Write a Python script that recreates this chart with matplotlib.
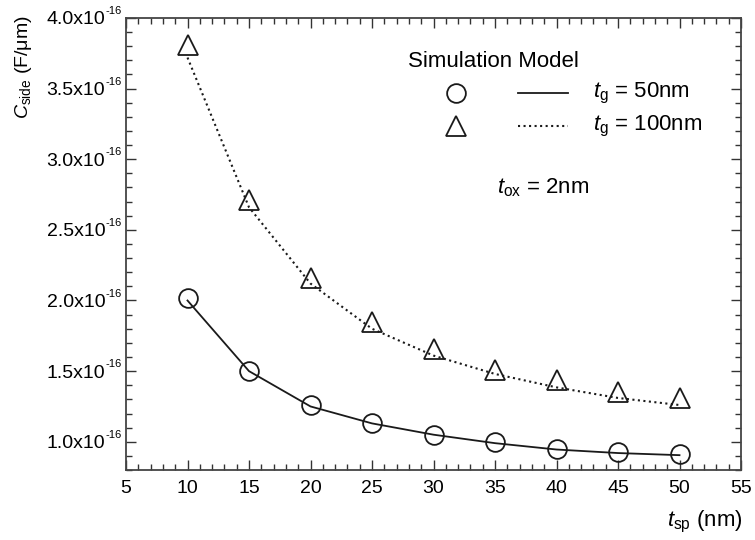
import matplotlib
matplotlib.use("Agg")
import matplotlib.pyplot as plt
import matplotlib.transforms as mtransforms
from matplotlib.lines import Line2D
from matplotlib.ticker import MultipleLocator, FuncFormatter

plt.rcParams['font.family'] = ['Liberation Sans', 'DejaVu Sans']
plt.rcParams['mathtext.fontset'] = 'custom'
plt.rcParams['mathtext.rm'] = 'Liberation Sans'
plt.rcParams['mathtext.it'] = 'Liberation Sans:italic'
plt.rcParams['mathtext.default'] = 'regular'

# Data (values in units of 1e-16 F/um)
t_sp = [10, 15, 20, 25, 30, 35, 40, 45, 50]
sim_50 = [2.02, 1.50, 1.26, 1.13, 1.05, 1.00, 0.95, 0.93, 0.91]
model_50 = [2.00, 1.50, 1.25, 1.13, 1.05, 0.99, 0.945, 0.92, 0.905]
sim_100 = [3.81, 2.71, 2.16, 1.85, 1.66, 1.51, 1.44, 1.35, 1.31]
model_100 = [3.72, 2.66, 2.12, 1.80, 1.61, 1.48, 1.385, 1.31, 1.26]
y_ticks = [1.0, 1.5, 2.0, 2.5, 3.0, 3.5, 4.0]
scale = 1e-16

fig = plt.figure(figsize=(7.55, 5.4), dpi=100)
ax = fig.add_axes([126/755, 1-470/540, 615/755, 452/540])

ax.plot(t_sp, [v*scale for v in model_50], '-', color='#1a1a1a', lw=1.3)
ax.plot(t_sp, [v*scale for v in model_100], ':', color='#1a1a1a', lw=1.5)
ax.plot(t_sp, [v*scale for v in sim_50], 'o', ms=13.5, mfc='none', mec='#1a1a1a', mew=1.3)
ax.plot(t_sp, [v*scale for v in sim_100], '^', ms=15, mfc='none', mec='#1a1a1a', mew=1.3)

ax.set_xlim(5, 55)
ax.set_ylim(0.8e-16, 4.0e-16)
ax.xaxis.set_major_locator(MultipleLocator(5))
ax.xaxis.set_minor_locator(MultipleLocator(1))
ax.set_yticks([v*scale for v in y_ticks])
ax.yaxis.set_minor_locator(MultipleLocator(0.1e-16))
ax.yaxis.set_major_formatter(FuncFormatter(lambda v, p: '%.1fx10' % (v/scale)))
ax.tick_params(which='both', direction='in', top=True, right=True, labelsize=14, color='#333333')
ax.tick_params(which='major', length=7, width=1.0)
ax.tick_params(which='minor', length=4, width=1.0)
ax.tick_params(axis='x', pad=7)
ax.tick_params(axis='y', pad=15)
for s in ax.spines.values():
    s.set_linewidth(1.3)
    s.set_color('#444444')

# exponent superscripts of y tick labels
blend = mtransforms.blended_transform_factory(ax.transAxes, ax.transData)
for v in y_ticks:
    ax.annotate('-16', xy=(0, v*scale), xycoords=blend, xytext=(-15, 2.7),
                textcoords='offset points', ha='left', va='baseline', fontsize=8,
                annotation_clip=False)

fig.text(24/755, 1-67/540, r'$\mathit{C}_{\mathrm{side}}$ (F/$\mu$m)', rotation=90, fontsize=14,
         ha='center', va='center')
fig.text(743/755, 1-522/540, r'$\mathit{t}_{\mathrm{sp}}$ (nm)', fontsize=16, ha='right', va='center')

# Legend (manual)
T = ax.transAxes
ax.text(0.598, 0.903, 'Simulation Model', transform=T, fontsize=16, ha='center', va='center')
ax.add_line(Line2D([0.537], [0.834], marker='o', ms=13.5, mfc='none', mec='#1a1a1a', mew=1.3, transform=T))
ax.add_line(Line2D([0.637, 0.718], [0.834, 0.834], ls='-', color='#1a1a1a', lw=1.3, transform=T))
ax.text(0.759, 0.834, r'$\mathit{t}_{\mathrm{g}}$ = 50nm', transform=T, fontsize=16, ha='left', va='center')
ax.add_line(Line2D([0.537], [0.760], marker='^', ms=15, mfc='none', mec='#1a1a1a', mew=1.3, transform=T))
ax.add_line(Line2D([0.637, 0.718], [0.760, 0.760], ls=':', color='#1a1a1a', lw=1.5, transform=T))
ax.text(0.759, 0.760, r'$\mathit{t}_{\mathrm{g}}$ = 100nm', transform=T, fontsize=16, ha='left', va='center')
ax.text(0.603, 0.624, r'$\mathit{t}_{\mathrm{ox}}$ = 2nm', transform=T, fontsize=16, ha='left', va='center')

fig.savefig('out.png', dpi=100)
